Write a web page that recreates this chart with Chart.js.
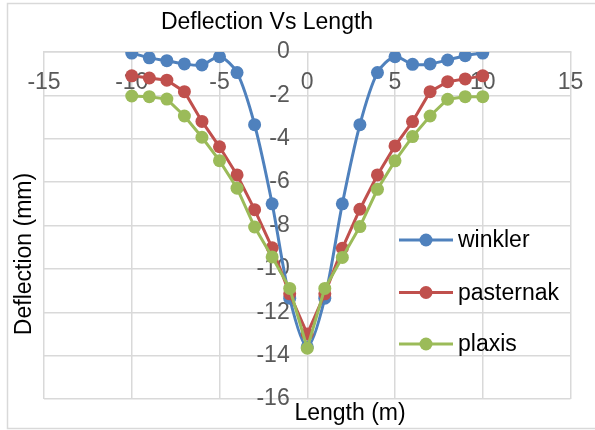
<!DOCTYPE html>
<html>
<head>
<meta charset="utf-8">
<script src="https://cdn.jsdelivr.net/npm/chart.js@4/dist/chart.umd.min.js"></script>
<style>
  body { margin: 0; background: #fff; }
  canvas { display: block; }
</style>
</head>
<body>
<canvas id="deflChart" width="595" height="430"></canvas>
<script>
// Data
const lengths = [-10, -9, -8, -7, -6, -5, -4, -3, -2, -1, 0, 1, 2, 3, 4, 5, 6, 7, 8, 9, 10];
const winkler = [-0.05, -0.27, -0.4, -0.55, -0.6, -0.22, -0.95, -3.35, -7.0, -11.35, -13.6, -11.35, -7.0, -3.35, -0.95, -0.22, -0.57, -0.55, -0.37, -0.17, -0.05];
const pasternak = [-1.1, -1.2, -1.3, -1.83, -3.2, -4.37, -5.67, -7.27, -9.03, -11.15, -13.0, -11.15, -9.05, -7.25, -5.67, -4.33, -3.21, -1.83, -1.37, -1.24, -1.1];
const plaxis = [-2.03, -2.06, -2.17, -2.95, -3.93, -5.01, -6.28, -8.07, -9.45, -10.9, -13.66, -10.9, -9.47, -8.05, -6.33, -5.02, -3.9, -2.95, -2.18, -2.06, -2.06];
const seriesNames = ['winkler', 'pasternak', 'plaxis'];
const seriesColors = ['#4F81BD', '#C0504D', '#9BBB59'];

const FONT = '"Liberation Sans", Arial, sans-serif';

function toPoints(values) {
    return lengths.map((x, i) => ({ x: x, y: values[i] }));
}

// titles, legend and outer frame placed like the Excel original
const extrasPlugin = {
    id: 'extras',
    beforeDraw(chart) {
        const ctx = chart.ctx;
        ctx.save();
        ctx.strokeStyle = '#d9d9d9';
        ctx.lineWidth = 1.5;
        ctx.strokeRect(7.5, 3.5, 610, 425);
        ctx.restore();
    },
    afterDraw(chart) {
        const ctx = chart.ctx;
        ctx.save();
        ctx.fillStyle = '#000';
        ctx.font = '23px ' + FONT;
        ctx.textAlign = 'center';
        ctx.textBaseline = 'middle';
        ctx.fillText('Deflection Vs Length', 267, 23);
        ctx.fillText('Length (m)', 350, 414);

        ctx.save();
        ctx.translate(25, 254);
        ctx.rotate(-Math.PI / 2);
        ctx.fillText('Deflection (mm)', 0, 0);
        ctx.restore();

        // legend
        const rows = [240, 292.5, 344];
        ctx.textAlign = 'left';
        seriesNames.forEach((name, i) => {
            const y = rows[i];
            ctx.strokeStyle = seriesColors[i];
            ctx.lineWidth = 3;
            ctx.beginPath();
            ctx.moveTo(399, y);
            ctx.lineTo(453, y);
            ctx.stroke();
            ctx.fillStyle = seriesColors[i];
            ctx.beginPath();
            ctx.arc(426, y, 6.5, 0, Math.PI * 2);
            ctx.fill();
            ctx.fillStyle = '#000';
            ctx.fillText(name, 458, y + 1);
        });
        ctx.restore();
    }
};

const datasets = [winkler, pasternak, plaxis].map((vals, i) => ({
    label: seriesNames[i],
    data: toPoints(vals),
    borderColor: seriesColors[i],
    backgroundColor: seriesColors[i],
    pointBackgroundColor: seriesColors[i],
    pointBorderColor: seriesColors[i],
    pointRadius: 6.5,
    pointBorderWidth: 0,
    borderWidth: 3,
    tension: i === 0 ? 0.3 : 0,
    order: 2 - i   // plaxis drawn on top
}));

const config = {
    type: 'line',
    data: { datasets: datasets },
    plugins: [extrasPlugin],
    options: {
        responsive: false,
        animation: false,
        devicePixelRatio: 1,
        layout: {
            padding: { left: 44, top: 52, right: 24.5, bottom: 31 }
        },
        plugins: {
            legend: { display: false },
            title: { display: false },
            tooltip: { enabled: false }
        },
        scales: {
            x: {
                type: 'linear',
                min: -15,
                max: 15,
                position: { y: 0 },
                ticks: {
                    stepSize: 5,
                    color: '#595959',
                    // tall line height pushes labels down without widening the side padding
                    font: { size: 23, family: FONT, lineHeight: 1.7 },
                    padding: 11,
                    maxRotation: 0
                },
                grid: { color: '#d9d9d9', lineWidth: 1.5, drawTicks: false },
                border: { color: '#d9d9d9', width: 1.5 }
            },
            y: {
                type: 'linear',
                min: -16,
                max: 0,
                // labels sit a little left of the x=0 line (the line itself is an x grid line)
                position: { x: -1 },
                ticks: {
                    stepSize: 2,
                    color: '#595959',
                    font: { size: 23, family: FONT },
                    padding: 0
                },
                grid: { color: '#d9d9d9', lineWidth: 1.5, drawTicks: false },
                border: { display: false }
            }
        }
    }
};

const deflCtx = document.getElementById('deflChart').getContext('2d');
new Chart(deflCtx, config);
</script>
</body>
</html>
